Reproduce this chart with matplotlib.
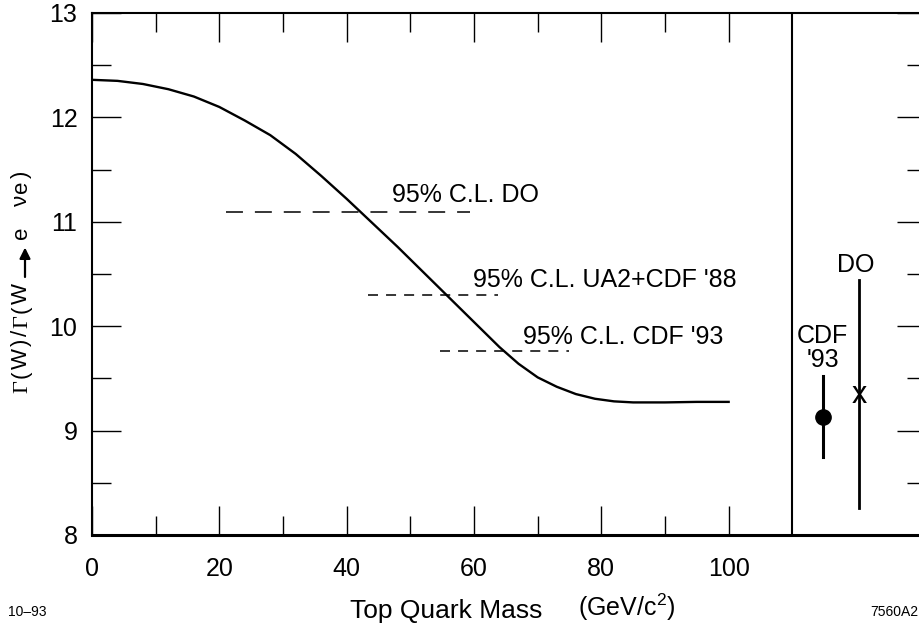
import matplotlib
matplotlib.use("Agg")
import matplotlib.pyplot as plt
from matplotlib.transforms import IdentityTransform
from matplotlib.ticker import MultipleLocator, FixedLocator
from matplotlib.patches import FancyArrowPatch

plt.rcParams['font.family'] = ['Liberation Sans', 'DejaVu Sans']
plt.rcParams['mathtext.fontset'] = 'custom'
plt.rcParams['mathtext.rm'] = 'Liberation Sans'
plt.rcParams['mathtext.it'] = 'Liberation Sans:italic'
plt.rcParams['lines.scale_dashes'] = False

# ---- data ----
top_mass = [0, 4, 8, 12, 16, 20, 24, 28, 32, 36, 40, 44, 48, 52, 56, 60, 64,
            67, 70, 73, 76, 79, 82, 85, 90, 95, 100]
width_ratio = [12.36, 12.35, 12.32, 12.27, 12.20, 12.10, 11.97, 11.83, 11.65,
               11.44, 11.22, 10.99, 10.76, 10.52, 10.28, 10.04, 9.80, 9.64,
               9.51, 9.42, 9.35, 9.305, 9.28, 9.27, 9.27, 9.275, 9.275]

cl_labels = ["95% C.L. DO", "95% C.L. UA2+CDF '88", "95% C.L. CDF '93"]
cl_values = [11.09, 10.30, 9.76]
cl_xstart = [21.0, 43.3, 54.6]
cl_xend = [59.3, 63.7, 75.0]
cl_text_x = [47.2, 59.8, 67.7]
cl_text_y = [11.19, 10.38, 9.83]

divider_x = 110
cdf_x, cdf_val, cdf_lo, cdf_hi = 114.8, 9.13, 8.75, 9.52
do_x, do_val, do_lo, do_hi = 120.5, 9.34, 8.26, 10.44

x_major = [0, 20, 40, 60, 80, 100]
x_minor = [10, 30, 50, 70, 90]

# ---- figure ----
fig = plt.figure(figsize=(9.19, 6.27), dpi=100)
W, H = 919, 627
ax = fig.add_axes([92 / W, (H - 535) / H, (926 - 92) / W, (535 - 13) / H])
ax.set_xlim(0, 131)
ax.set_ylim(8, 13)

ax.plot(top_mass, width_ratio, color='black', lw=1.7, solid_joinstyle='round')

dash_styles = [(0, (12.2, 8.6)), (0, (7.2, 5.8)), (0, (7.2, 5.8))]
for lab, v, xs, xe, tx, ty, ds in zip(cl_labels, cl_values, cl_xstart, cl_xend,
                                      cl_text_x, cl_text_y, dash_styles):
    ax.plot([xs, xe], [v, v], color='black', lw=1.1, linestyle=ds)
    ax.text(tx, ty, lab, fontsize=18, ha='left', va='baseline')

ax.axvline(divider_x, color='black', lw=1.5)

# CDF '93 point
ax.plot([cdf_x, cdf_x], [cdf_lo, cdf_hi], color='black', lw=2.2)
ax.plot([cdf_x], [cdf_val], 'o', color='black', markersize=11)
ax.text(cdf_x, 9.84, "CDF", fontsize=18, ha='center', va='baseline')
ax.text(cdf_x, 9.61, "'93", fontsize=18, ha='center', va='baseline')

# DO
ax.plot([do_x, do_x], [do_lo, do_hi], color='black', lw=2.0)
ax.text(do_x, 9.26, "x", fontsize=22, ha='center', va='baseline')
ax.text(do_x - 0.6, 10.52, "DO", fontsize=18, ha='center', va='baseline')

# ticks
ax.xaxis.set_major_locator(FixedLocator(x_major))
ax.xaxis.set_minor_locator(FixedLocator(x_minor))
ax.yaxis.set_major_locator(MultipleLocator(1))
ax.yaxis.set_minor_locator(MultipleLocator(0.5))
ax.tick_params(which='both', direction='in', top=True, right=True,
               width=1.0, color='black', labelsize=18)
ax.tick_params(which='major', length=21)
ax.tick_params(which='minor', length=14)
ax.tick_params(axis='x', which='major', pad=16)
ax.tick_params(axis='y', which='major', pad=10.5)
for s in ['left', 'top', 'right']:
    ax.spines[s].set_linewidth(1.5)
ax.spines['bottom'].set_linewidth(2.2)

# x label
fig.text(350 / W, 1 - 618 / H, "Top Quark Mass", fontsize=19, ha='left', va='baseline')
fig.text(578 / W, 1 - 616 / H, "(GeV/c$^{2}$)", fontsize=18, ha='left', va='baseline')

fig.text(8 / W, 1 - 616 / H, "10\u201393", fontsize=10, ha='left', va='baseline')
fig.text(918 / W, 1 - 616 / H, "7560A2", fontsize=10, ha='right', va='baseline')

# y label assembled from characters (serif Gamma, sans text), rotated
fig.canvas.draw()
renderer = fig.canvas.get_renderer()
serif = ['Liberation Serif']
sans = ['Liberation Sans']
base_x = 27
track = 2.0


def put_chars(chars, y0):
    y = y0
    for ch, fam in chars:
        t = fig.text(base_x, y, ch, rotation=90, rotation_mode='anchor',
                     ha='left', va='baseline', family=fam, fontsize=16,
                     transform=IdentityTransform())
        y += t.get_window_extent(renderer).height + track
    return y


first = [("\u0393", serif), ("(", sans), ("W", sans), (")", sans), ("/", sans),
         ("\u0393", serif), ("(", sans), ("W", sans)]
yend = put_chars(first, H - 393)
arrow = FancyArrowPatch((base_x - 2, yend + 1), (base_x - 2, yend + 36),
                        arrowstyle='-|>', mutation_scale=16, lw=1.6,
                        color='black', transform=IdentityTransform())
fig.patches.append(arrow)
put_chars([("e", sans)], yend + 42)
put_chars([("\u03bd", sans), ("e", sans), (")", sans)], H - 206)

fig.savefig("out.png", dpi=100)
